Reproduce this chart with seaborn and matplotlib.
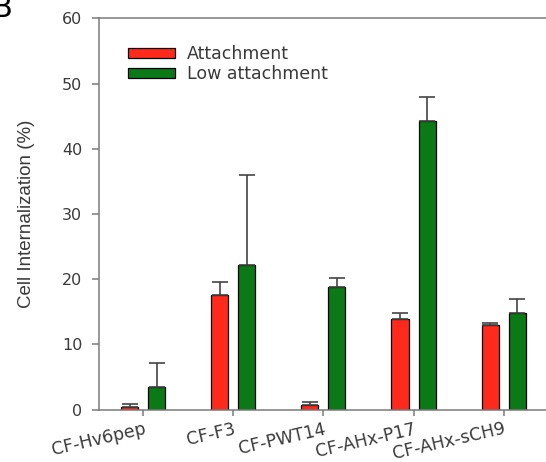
import numpy as np
import pandas as pd
import seaborn as sns
import matplotlib.pyplot as plt

peptides = ["CF-Hv6pep", "CF-F3", "CF-PWT14", "CF-AHx-P17", "CF-AHx-sCH9"]
conditions = ["Attachment", "Low attachment"]
attach_mean = [0.35, 17.6, 0.7, 13.9, 13.0]
attach_err = [0.5, 1.9, 0.45, 0.9, 0.3]
low_mean = [3.5, 22.1, 18.8, 44.3, 14.8]
low_err = [3.6, 13.9, 1.4, 3.6, 2.2]
colors = ["#ff2a1c", "#0b7a16"]

d = pd.DataFrame(
    {
        "peptide": peptides * 2,
        "condition": [conditions[0]] * 5 + [conditions[1]] * 5,
        "value": attach_mean + low_mean,
    }
)
errs = [attach_err, low_err]

sns.set_theme(style="ticks")
plt.rcParams["font.family"] = ["DejaVu Sans"]
txt = "#3a3a3a"
spine = "#7a7a7a"

fig = plt.figure(figsize=(5.46, 4.62), dpi=100)
ax = fig.add_axes([99 / 546, 52.5 / 462, 447 / 546, 391.2 / 462])

sns.barplot(
    data=d,
    x="peptide",
    y="value",
    hue="condition",
    order=peptides,
    hue_order=conditions,
    palette=colors,
    width=0.6,
    gap=0.37,
    edgecolor="black",
    linewidth=0.9,
    errorbar=None,
    saturation=1,
    ax=ax,
)

# upper-only error bars on top of each bar
bar_groups = list(ax.containers)
for i, cont in enumerate(bar_groups):
    xs = [b.get_x() + b.get_width() / 2 for b in cont]
    ys = [b.get_height() for b in cont]
    ax.errorbar(
        xs,
        ys,
        yerr=[np.zeros(len(ys)), errs[i]],
        fmt="none",
        ecolor="#444444",
        elinewidth=1.2,
        capsize=5.8,
        capthick=1.2,
        zorder=1,
    )

ax.set_xlim(-0.49, 4.47)
ax.set_ylim(0, 60)
ax.set_yticks(range(0, 61, 10))
ax.set_xlabel("")
ax.set_ylabel("Cell Internalization (%)", fontsize=13.5, color=txt,
              family=["Liberation Sans"])
ax.yaxis.set_label_coords(-0.143, 0.5)
ax.tick_params(axis="y", labelsize=11.5, colors=spine, labelcolor=txt,
               length=5, width=1.1, direction="out", pad=7)
ax.tick_params(axis="x", labelsize=12.5, colors=spine, labelcolor=txt,
               length=4, width=1.1, direction="out")
for lab in ax.get_xticklabels():
    lab.set_rotation(13)
    lab.set_ha("right")
    lab.set_va("top")
    lab.set_rotation_mode("anchor")

for s in ["left", "bottom", "top"]:
    ax.spines[s].set_color(spine)
    ax.spines[s].set_linewidth(1.1)
ax.spines["right"].set_visible(False)

handles, labels = ax.get_legend_handles_labels()
ax.legend(
    handles,
    labels,
    loc="upper left",
    bbox_to_anchor=(0.065, 0.932),
    frameon=False,
    fontsize=12.5,
    handlelength=2.7,
    handleheight=0.55,
    handletextpad=0.7,
    labelspacing=0.12,
    borderpad=0,
    borderaxespad=0,
    labelcolor=txt,
)

fig.text(13 / 546, 1 - 17 / 462, "B", fontsize=22, ha="right", va="baseline",
         color="black")

fig.savefig("out.png", dpi=100)
